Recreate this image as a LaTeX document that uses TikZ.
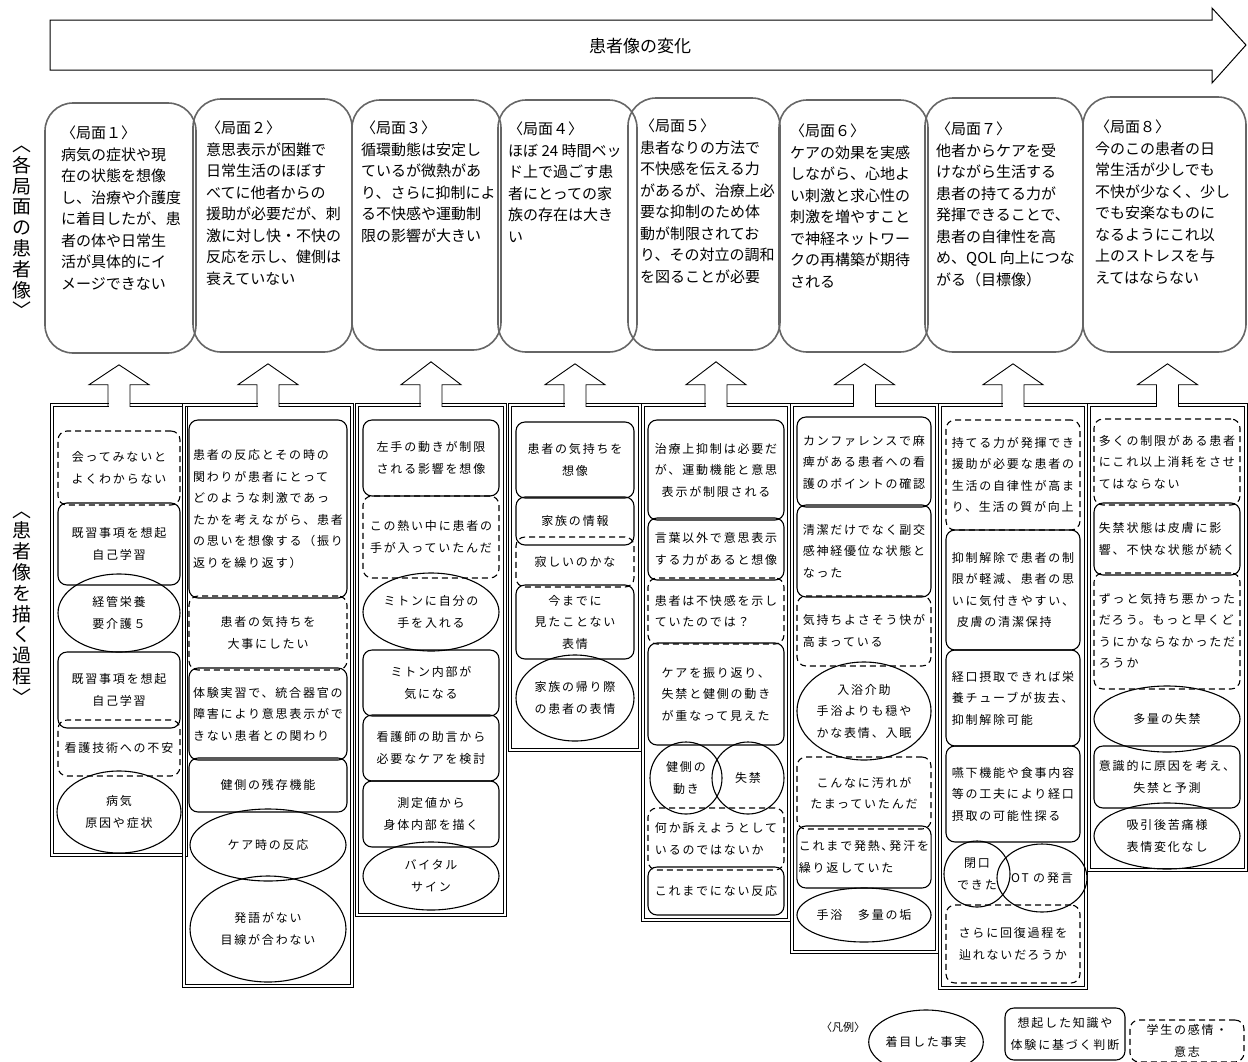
\documentclass[tikz,border=0pt]{standalone}
\usepackage{fontspec}
\setmainfont{Noto Sans CJK JP}
\newfontfamily\jpsp[LetterSpace=15]{Noto Sans CJK JP}
\usetikzlibrary{shapes.geometric,calc}
\tikzset{
  colbox/.style={draw, double, double distance=2pt, line width=0.6pt, inner sep=0pt},
  phasebox/.style={draw=black!60, line width=1.6pt, rounded corners=28pt, inner sep=0pt},
  itemtext/.style={font=\jpsp\fontsize{12}{21.5}\selectfont, align=center},
  fact/.style={itemtext, ellipse, draw, line width=1.1pt, inner sep=0pt},
  know/.style={itemtext, rectangle, rounded corners=9pt, draw, line width=1.1pt, inner sep=2pt},
  feel/.style={know, dash pattern=on 6pt off 4pt},
  lft/.style={align=left},
  phtext/.style={font=\fontsize{15}{21.5}\selectfont, align=left, anchor=north west, inner sep=0pt},
  vlabel/.style={font=\fontsize{19}{20.8}\selectfont, align=center, inner sep=0pt},
}
\newcommand\itm[7]{\node[#1, minimum width=#5pt, minimum height=#6pt] (#2) at (#3,#4) {#7};}
\newcommand\blockarrow[2]{%
  \fill[white] ($(#1.north)+(-10.5,3)$) rectangle ($(#1.north)+(10.5,-19)$);
  \draw[line width=0.9pt, line join=miter] ($(#1.north)+(-11,2.2)$) -- ++(0,-22.2) -- ++(-19,0)
    -- ($(#1.north |- #2.south)+(0,11)$) -- ($(#1.north)+(30,-20)$) -- ++(-19,0) -- ++(0,22.2);
}
\begin{document}
\begin{tikzpicture}[x=1pt,y=-1pt]
\useasboundingbox (0,0) rectangle (1248,1061);

% top arrow
\draw[line width=1pt, line join=miter] (50,20) -- (1212,20) -- (1212,8) -- (1246,45) -- (1212,83) -- (1212,70) -- (50,70) -- cycle;
\node[font=\fontsize{17}{20}\selectfont] (title) at (640,46) {患者像の変化};

% side labels
\node[vlabel] (lab1) at (22,232) {︿\\各\\局\\面\\の\\患\\者\\像\\﹀};
\node[vlabel] (lab2) at (22,608) {︿\\患\\者\\像\\を\\描\\く\\過\\程\\﹀};

% phase boxes
\node[phasebox, minimum width=151pt, minimum height=250pt] (ph1) at (120.5,228) {};
\node[phasebox, minimum width=159pt, minimum height=253pt] (ph2) at (272.5,225.5) {};
\node[phasebox, minimum width=149pt, minimum height=250pt] (ph3) at (426.5,225) {};
\node[phasebox, minimum width=139pt, minimum height=252pt] (ph4) at (567.5,226) {};
\node[phasebox, minimum width=152pt, minimum height=252pt] (ph5) at (704,224) {};
\node[phasebox, minimum width=149pt, minimum height=252pt] (ph6) at (853.5,226) {};
\node[phasebox, minimum width=158pt, minimum height=254pt] (ph7) at (1004,225) {};
\node[phasebox, minimum width=163pt, minimum height=255pt] (ph8) at (1164.5,224.5) {};

\node[phtext] (ph1t) at (61,126) {〈局面１〉\\病気の症状や現\\在の状態を想像\\し、治療や介護度\\に着目したが、患\\者の体や日常生\\活が具体的にイ\\メージできない};
\node[phtext] (ph2t) at (206,121) {〈局面２〉\\意思表示が困難で\\日常生活のほぼす\\べてに他者からの\\援助が必要だが、刺\\激に対し快・不快の\\反応を示し、健側は\\衰えていない};
\node[phtext] (ph3t) at (361,121) {〈局面３〉\\循環動態は安定し\\ているが微熱があ\\り、さらに抑制によ\\る不快感や運動制\\限の影響が大きい};
\node[phtext] (ph4t) at (508,122) {〈局面４〉\\ほぼ 24 時間ベッ\\ド上で過ごす患\\者にとっての家\\族の存在は大き\\い};
\node[phtext] (ph5t) at (640,119) {〈局面５〉\\患者なりの方法で\\不快感を伝える力\\があるが、治療上必\\要な抑制のため体\\動が制限されてお\\り、その対立の調和\\を図ることが必要};
\node[phtext] (ph6t) at (790,124) {〈局面６〉\\ケアの効果を実感\\しながら、心地よ\\い刺激と求心性の\\刺激を増やすこと\\で神経ネットワー\\クの再構築が期待\\される};
\node[phtext] (ph7t) at (936,122) {〈局面７〉\\他者からケアを受\\けながら生活する\\患者の持てる力が\\発揮できることで、\\患者の自律性を高\\め、QOL 向上につな\\がる（目標像）};
\node[phtext] (ph8t) at (1095,120) {〈局面８〉\\今のこの患者の日\\常生活が少しでも\\不快が少なく、少し\\でも安楽なものに\\なるようにこれ以\\上のストレスを与\\えてはならない};

% columns
\node[colbox, minimum width=134pt, minimum height=450pt] (c1) at (119,630) {};
\node[colbox, minimum width=168pt, minimum height=581pt] (c2) at (268,695.5) {};
\node[colbox, minimum width=148pt, minimum height=510pt] (c3) at (431,660) {};
\node[colbox, minimum width=130pt, minimum height=345pt] (c4) at (575,577.5) {};
\node[colbox, minimum width=146pt, minimum height=515pt] (c5) at (716,662.5) {};
\node[colbox, minimum width=145pt, minimum height=547pt] (c6) at (864.5,678.5) {};
\node[colbox, minimum width=146pt, minimum height=583pt] (c7) at (1013,696.5) {};
\node[colbox, minimum width=157pt, minimum height=465pt] (c8) at (1167.5,637.5) {};

\blockarrow{c1}{ph1}
\blockarrow{c2}{ph2}
\blockarrow{c3}{ph3}
\blockarrow{c4}{ph4}
\blockarrow{c5}{ph5}
\blockarrow{c6}{ph6}
\blockarrow{c7}{ph7}
\blockarrow{c8}{ph8}

% column 1
\itm{feel}{c1a}{119}{468}{122}{74}{会ってみないと\\よくわからない}
\itm{know}{c1b}{119}{544}{122}{82}{既習事項を想起\\自己学習}
\itm{fact}{c1c}{119}{613}{122}{78}{経管栄養\\要介護５}
\itm{know}{c1d}{119}{690}{122}{76}{既習事項を想起\\自己学習}
\itm{feel}{c1e}{119}{748}{122}{56}{看護技術への不安}
\itm{fact}{c1f}{119}{812}{124}{82}{病気\\原因や症状}

% column 2
\itm{know,lft}{c2a}{268}{509}{158}{178}{患者の反応とその時の\\関わりが患者にとって\\どのような刺激であっ\\たかを考えながら、患者\\の思いを想像する（振り\\返りを繰り返す）}
\itm{feel}{c2b}{268}{633}{158}{74}{患者の気持ちを\\大事にしたい}
\itm{know,lft}{c2c}{268}{714}{158}{92}{体験実習で、統合器官の\\障害により意思表示がで\\きない患者との関わり}
\itm{know}{c2d}{268}{785}{158}{54}{健側の残存機能}
\itm{fact}{c2e}{268}{845}{156}{72}{ケア時の反応}
\itm{fact}{c2f}{268}{929}{156}{106}{発語がない\\目線が合わない}

% column 3
\itm{know}{c3a}{431}{458}{136}{76}{左手の動きが制限\\される影響を想像}
\itm{feel}{c3b}{431}{537}{136}{82}{この熱い中に患者の\\手が入っていたんだ}
\itm{fact}{c3c}{431}{612}{136}{78}{ミトンに自分の\\手を入れる}
\itm{know}{c3d}{431}{683}{136}{66}{ミトン内部が\\気になる}
\itm{know}{c3e}{431}{748}{136}{66}{看護師の助言から\\必要なケアを検討}
\itm{know}{c3f}{431}{814}{136}{66}{測定値から\\身体内部を描く}
\itm{fact}{c3g}{431}{876}{136}{68}{バイタル\\サイン}

% column 4
\itm{know}{c4a}{575}{460}{118}{76}{患者の気持ちを\\想像}
\itm{know}{c4b}{575}{521}{118}{48}{家族の情報}
\itm{feel}{c4c}{575}{562}{118}{50}{寂しいのかな}
\itm{know}{c4d}{575}{622}{118}{74}{今までに\\見たことない\\表情}
\itm{fact}{c4e}{575}{698}{118}{86}{家族の帰り際\\の患者の表情}

% column 5
\itm{know}{c5a}{716}{470}{136}{100}{治療上抑制は必要だ\\が、運動機能と意思\\表示が制限される}
\itm{know}{c5b}{716}{549}{136}{62}{言葉以外で意思表示\\する力があると想像}
\itm{feel,lft}{c5c}{716}{611}{136}{66}{患者は不快感を示し\\ていたのでは？}
\itm{know,lft}{c5d}{716}{694}{136}{102}{ケアを振り返り、\\失禁と健側の動き\\が重なって見えた}
\itm{fact}{c5e}{686}{778}{72}{72}{健側の\\動き}
\itm{fact}{c5f}{748}{778}{72}{72}{失禁}
\itm{feel,lft}{c5g}{716}{839}{136}{62}{何か訴えようとして\\いるのではないか}
\itm{know}{c5h}{716}{891}{136}{48}{これまでにない反応}

% column 6
\itm{know}{c6a}{864}{462}{134}{90}{カンファレンスで麻\\痺がある患者への看\\護のポイントの確認}
\itm{know,lft}{c6b}{864}{551}{134}{92}{清潔だけでなく副交\\感神経優位な状態と\\なった}
\itm{feel,lft}{c6c}{864}{631}{134}{70}{気持ちよさそう快が\\高まっている}
\itm{fact}{c6d}{864}{711}{134}{98}{入浴介助\\手浴よりも穏や\\かな表情、入眠}
\itm{feel}{c6e}{864}{793}{134}{72}{こんなに汚れが\\たまっていたんだ}
\itm{know,lft}{c6f}{864}{857}{134}{62}{これまで発熱､発汗を\\繰り返していた}
\itm{fact}{c6g}{864}{915}{130}{54}{手浴　多量の垢}

% column 7
\itm{feel,lft}{c7a}{1013}{475}{134}{110}{持てる力が発揮でき\\援助が必要な患者の\\生活の自律性が高ま\\り、生活の質が向上}
\itm{know,lft}{c7b}{1013}{590}{134}{120}{抑制解除で患者の制\\限が軽減、患者の思\\いに気付きやすい、\\\hspace{5pt}皮膚の清潔保持}
\itm{know,lft}{c7c}{1013}{698}{134}{96}{経口摂取できれば栄\\養チューブが抜去、\\抑制解除可能}
\itm{know,lft}{c7d}{1013}{794}{134}{96}{嚥下機能や食事内容\\等の工夫により経口\\摂取の可能性探る}
\itm{fact}{c7e}{977}{874}{66}{66}{閉口\\できた}
\itm{fact}{c7f}{1042}{878}{90}{68}{OT の発言}
\itm{feel}{c7g}{1013}{944}{134}{78}{さらに回復過程を\\辿れないだろうか}

% column 8
\itm{feel,lft}{c8a}{1167}{462}{146}{86}{多くの制限がある患者\\にこれ以上消耗をさせ\\てはならない}
\itm{know,lft}{c8b}{1167}{539}{146}{72}{失禁状態は皮膚に影\\響、不快な状態が続く}
\itm{feel,lft}{c8c}{1167}{631}{146}{116}{ずっと気持ち悪かった\\だろう。もっと早くど\\うにかならなかっただ\\ろうか}
\itm{fact}{c8d}{1167}{719}{146}{66}{多量の失禁}
\itm{know}{c8e}{1167}{777}{146}{62}{意識的に原因を考え、\\失禁と予測}
\itm{fact}{c8f}{1167}{836}{146}{66}{吸引後苦痛様\\表情変化なし}

% legend
\node[font=\fontsize{11}{14}\selectfont] (legt) at (843,1027) {〈凡例〉};
\itm{fact}{leg1}{926}{1042}{108}{64}{着目した事実}
\itm{know}{leg2}{1065}{1034}{120}{52}{想起した知識や\\体験に基づく判断}
\itm{feel}{leg3}{1187}{1041}{114}{42}{学生の感情・\\意志}
\end{tikzpicture}
\end{document}
